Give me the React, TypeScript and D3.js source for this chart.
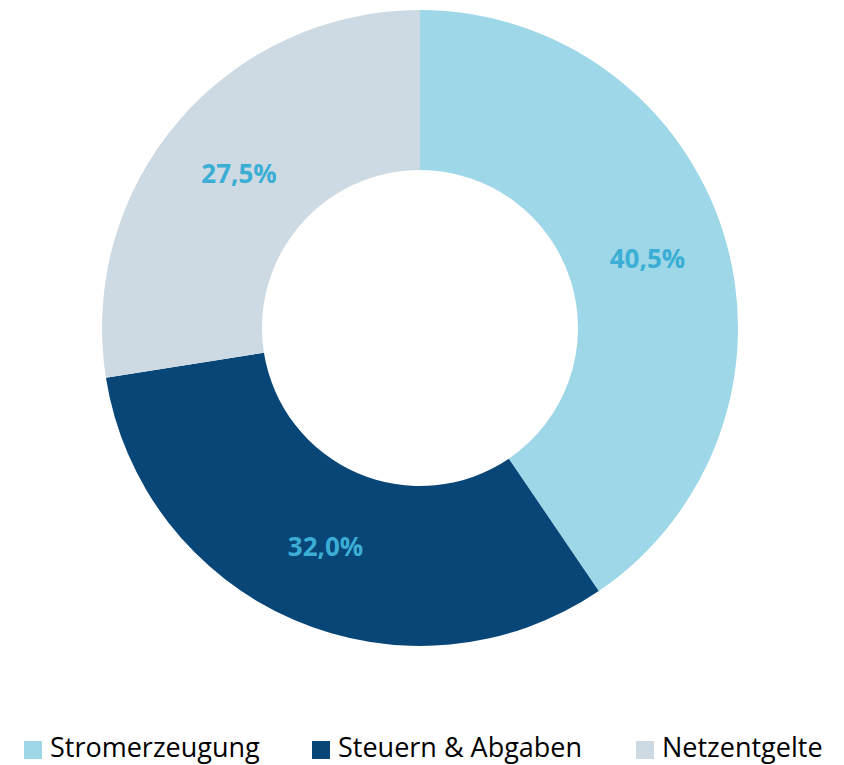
import React from "react";
import * as d3 from "d3";

const categories = ["Stromerzeugung", "Steuern & Abgaben", "Netzentgelte"];
const values = [40.5, 32.0, 27.5];
const labels = ["40,5%", "32,0%", "27,5%"];
const colors = ["#9DD7E8", "#084678", "#CDDAE3"];

const W = 844;
const H = 765;
const cx = 420;
const cy = 328;
const outerR = 318;
const innerR = 158;

const legendX = [24, 312, 636];

export default function App() {
  const pie = d3.pie<number>().sort(null).value((d) => d)(values);
  const arc = d3.arc<d3.PieArcDatum<number>>().innerRadius(innerR).outerRadius(outerR);
  return (
    <svg width={W} height={H} style={{ position: "absolute", left: 0, top: 0 }} fontFamily="'Open Sans', sans-serif">
      <g transform={`translate(${cx},${cy})`}>
        {pie.map((p, i) => (
          <path key={i} d={arc(p) || ""} fill={colors[i]} />
        ))}
        {pie.map((p, i) => {
          const [x, y] = arc.centroid(p);
          return (
            <text key={"l" + i} x={x} y={y} textAnchor="middle" dominantBaseline="central" fontSize={26} fontWeight="bold" fill="#3AAED5">
              {labels[i]}
            </text>
          );
        })}
      </g>
      {categories.map((c, i) => (
        <g key={"g" + i}>
          <rect x={legendX[i]} y={741} width={18} height={18} fill={colors[i]} />
          <text x={legendX[i] + 26} y={757} fontSize={27} fill="#000">
            {c}
          </text>
        </g>
      ))}
    </svg>
  );
}
